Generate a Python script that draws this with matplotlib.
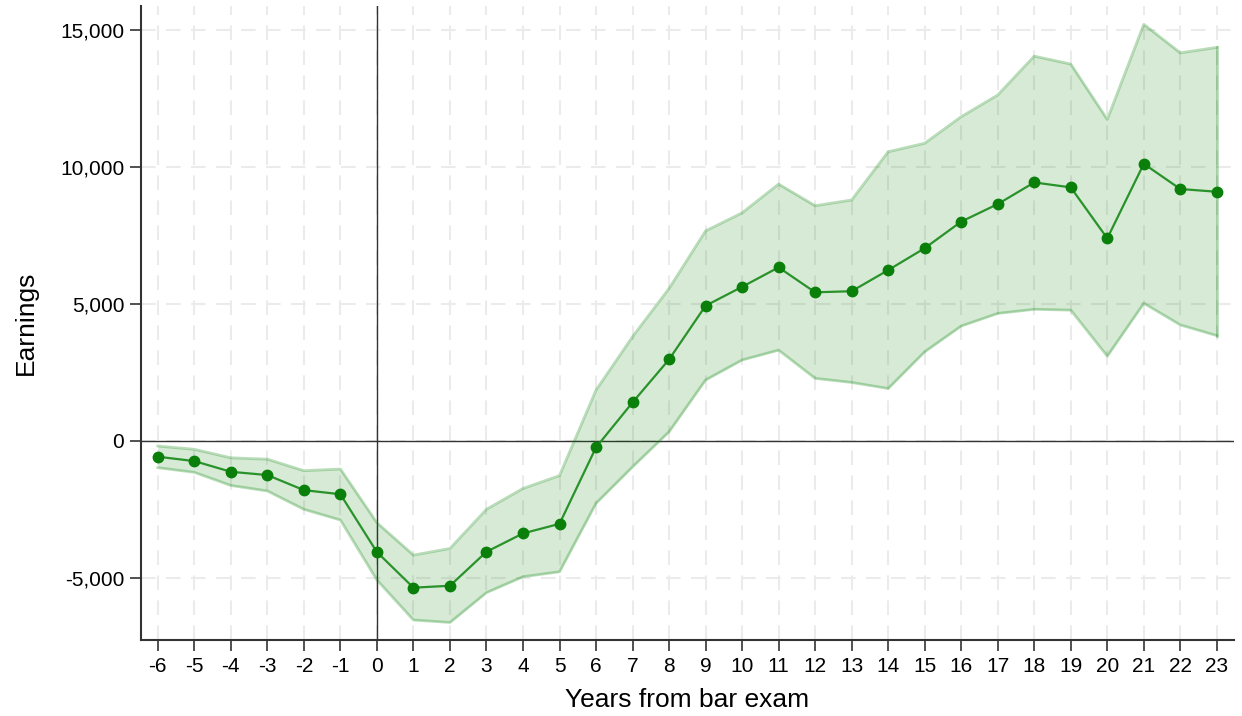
import numpy as np
import matplotlib
matplotlib.use("Agg")
from matplotlib import pyplot as plt

plt.rcParams['font.family'] = ['Liberation Sans', 'DejaVu Sans']
plt.rcParams['axes.unicode_minus'] = False

# years relative to bar exam
years = list(range(-6, 24))

# point estimates
est = [-590, -750, -1140, -1260, -1810, -1960, -4070, -5370, -5300, -4060,
       -3390, -3040, -250, 1390, 2960, 4920, 5610, 6320, 5410, 5450,
       6220, 7020, 7990, 8630, 9420, 9240, 7380, 10100, 9180, 9080]

# confidence band
ci_hi = [-200, -320, -630, -680, -1100, -1040, -3000, -4180, -3940, -2510,
         -1750, -1280, 1840, 3790, 5550, 7650, 8310, 9360, 8570, 8780,
         10540, 10850, 11820, 12610, 14030, 13740, 11720, 15190, 14150, 14350]
ci_lo = [-990, -1160, -1640, -1840, -2510, -2900, -5090, -6550, -6640, -5550,
         -4970, -4790, -2290, -960, 320, 2210, 2940, 3300, 2270, 2120,
         1900, 3240, 4180, 4640, 4790, 4760, 3080, 5010, 4220, 3830]

yticks = [-5000, 0, 5000, 10000, 15000]

fig = plt.figure(figsize=(12.42, 7.16), dpi=100)
ax = fig.add_axes([141 / 1242, 1 - 640 / 716, (1234 - 141) / 1242, (640 - 6) / 716])

# dashed grid
for x in years:
    ax.axvline(x, color='#ebebeb', lw=1.5, dashes=(7, 5), zorder=0)
for y in yticks:
    ax.axhline(y, color='#ebebeb', lw=1.5, dashes=(7, 5), zorder=0)

ax.axhline(0, color='#333333', lw=1.0, zorder=1)
ax.axvline(0, color='#333333', lw=1.0, zorder=1)

ax.fill_between(years, ci_lo, ci_hi, color='green', alpha=0.16, lw=0, zorder=2)
ax.plot(years, ci_hi, color='green', alpha=0.27, lw=2, zorder=2)
ax.plot(years, ci_lo, color='green', alpha=0.27, lw=2, zorder=2)
ax.plot([years[-1], years[-1]], [ci_lo[-1], ci_hi[-1]], color='green', alpha=0.27, lw=2, zorder=2)

ax.plot(years, est, color='#2a922a', lw=1.6, marker='o', ms=7.5,
        mfc='#0a800a', mec='#0a800a', zorder=4)

ax.set_xlim(-6.46, 23.47)
ax.set_ylim(-7280, 15860)
ax.set_xticks(years)
ax.set_yticks(yticks)
ax.set_yticklabels([f"{v:,}" for v in yticks])

ax.spines['top'].set_visible(False)
ax.spines['right'].set_visible(False)
for s in ['left', 'bottom']:
    ax.spines[s].set_color('#333333')
    ax.spines[s].set_linewidth(1.5)
ax.tick_params(axis='both', direction='out', length=8, width=1.2, color='#333333',
               labelsize=15, pad=4)

ax.set_xlabel("Years from bar exam", fontsize=19, labelpad=9)
ax.set_ylabel("Earnings", fontsize=19, labelpad=16)

plt.savefig('out.png', dpi=100)
plt.close(fig)
